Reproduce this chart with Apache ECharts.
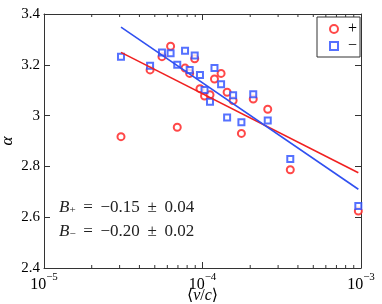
<!DOCTYPE html>
<html><head><meta charset="utf-8">
<script src="https://cdn.jsdelivr.net/npm/echarts@6/dist/echarts.min.js"></script>
<style>html,body{margin:0;padding:0;background:#fff}#c{width:382px;height:304px}</style>
</head><body><div id="c"></div>
<script>
// Data
var xValues = [3.06e-5, 4.67e-5, 5.55e-5, 6.29e-5, 6.93e-5, 7.76e-5, 8.30e-5, 8.93e-5, 9.64e-5, 1.03e-4,
               1.115e-4, 1.19e-4, 1.31e-4, 1.43e-4, 1.56e-4, 1.76e-4, 2.09e-4, 2.58e-4, 3.58e-4, 9.62e-4];
var alphaPlus = [2.917, 3.180, 3.232, 3.273, 2.954, 3.187, 3.166, 3.224, 3.106, 3.077,
                 3.082, 3.144, 3.166, 3.092, 3.059, 2.930, 3.065, 3.025, 2.787, 2.624];
var alphaMinus = [3.232, 3.196, 3.248, 3.245, 3.200, 3.255, 3.180, 3.237, 3.160, 3.101,
                  3.055, 3.187, 3.123, 2.993, 3.080, 2.974, 3.084, 2.981, 2.829, 2.644];
var fitX = [3.06e-5, 9.62e-4];
var fitPlus = [3.249, 2.775];
var fitMinus = [3.348, 2.710];
var xTicks = [1e-5, 1e-4, 1e-3];
var xTickLabels = ['−5', '−4', '−3'];
var xMinorTicks = [2e-5,3e-5,4e-5,5e-5,6e-5,7e-5,8e-5,9e-5,2e-4,3e-4,4e-4,5e-4,6e-4,7e-4,8e-4,9e-4];
var seriesNames = ['+', '−'];
var annotations = ['B+ = −0.15 ± 0.04', 'B− = −0.20 ± 0.02'];

var SERIF = '"Liberation Serif", "DejaVu Serif", serif';
var RED = '#ff1a1a', BLUE = '#2a4dff';
var RED_LINE = '#f02020', BLUE_LINE = '#3050f0';

function pairs(xs, ys){ return xs.map(function(x,i){ return [x, ys[i]]; }); }

var chart = echarts.init(document.getElementById('c'), null, {renderer:'canvas'});

var axisCommon = {
  type: 'log', logBase: 10, min: 1e-5, max: 1e-3,
  axisLine: {show:true, onZero:false, lineStyle:{color:'#333', width:1}},
  axisTick: {show:true, inside:true, length:6, lineStyle:{color:'#333'}},
  splitLine: {show:false}
};

function annText(s){
  var sign = s.charAt(1);
  var rest = s.slice(2);
  return '{i|B}{s|' + sign + '}{n|' + rest.replace(/ /g, '\u2009 ') + '}';
}

var option = {
  animation: false,
  backgroundColor: '#fff',
  grid: {left:44, top:14, right:21, bottom:36, containLabel:false, outerBoundsMode:'none'},
  legend: {
    data: seriesNames,
    orient: 'vertical',
    left: 317, top: 17,
    padding: [4, 3, 3, 12],
    itemWidth: 8, itemHeight: 8, itemGap: 1,
    borderColor: '#333', borderWidth: 1, backgroundColor: '#fff',
    textStyle: {fontFamily: SERIF, fontSize: 16, color:'#000', padding:[0,0,0,5], lineHeight: 13}
  },
  xAxis: [
    Object.assign({}, axisCommon, {
      position: 'bottom',
      name: '{n|⟨}{i|v}{n|/}{i|c}{n|⟩}',
      nameLocation: 'middle', nameGap: 20, nameMoveOverlap: false,
      nameTextStyle: {rich: {
        n: {fontFamily: SERIF, fontSize: 16, color:'#000'},
        i: {fontFamily: SERIF, fontSize: 16, fontStyle:'italic', color:'#000'}
      }},
      axisLabel: {
        margin: 4,
        formatter: function(v){
          var k = xTicks.findIndex(function(t){ return Math.abs(Math.log10(t) - Math.log10(v)) < 1e-6; });
          if (k < 0) return '';
          return '{b|10}{s|' + xTickLabels[k] + '}';
        },
        rich: {
          b: {fontFamily: SERIF, fontSize: 16, color:'#000', verticalAlign:'top', padding:[5,0,0,0]},
          s: {fontFamily: SERIF, fontSize: 11, color:'#000', verticalAlign:'top', padding:[0,0,0,0]}
        }
      }
    }),
    Object.assign({}, axisCommon, {position: 'top', axisLabel:{show:false}})
  ],
  yAxis: [
    {type:'value', min:2.4, max:3.4, interval:0.2, position:'left',
     name: 'α', nameLocation:'middle', nameGap: 28, nameRotate: 90, nameMoveOverlap: false,
     nameTextStyle: {fontFamily: SERIF, fontSize: 17, fontStyle:'italic', color:'#000'},
     axisLine:{show:true, onZero:false, lineStyle:{color:'#333'}},
     axisTick:{show:true, inside:true, length:6, lineStyle:{color:'#333'}},
     splitLine:{show:false},
     axisLabel:{margin:4, fontFamily: SERIF, fontSize: 15, color:'#000',
       formatter: function(v){ return (Math.round(v*10)/10).toString(); }}
    },
    {type:'value', min:2.4, max:3.4, interval:0.2, position:'right',
     axisLine:{show:true, onZero:false, lineStyle:{color:'#333'}},
     axisTick:{show:true, inside:true, length:6, lineStyle:{color:'#333'}},
     splitLine:{show:false}, axisLabel:{show:false}
    }
  ],
  series: [
    {name: seriesNames[0], type:'scatter', data: pairs(xValues, alphaPlus),
     symbol:'emptyCircle', symbolSize:7, itemStyle:{color:RED, borderColor:RED, borderWidth:1.6}, z:3},
    {name: seriesNames[1], type:'scatter', data: pairs(xValues, alphaMinus),
     symbol:'emptyRect', symbolSize:6, itemStyle:{color:BLUE, borderColor:BLUE, borderWidth:1.6}, z:3},
    {name:'fitPlus', type:'line', data: pairs(fitX, fitPlus), showSymbol:false, symbol:'none',
     lineStyle:{color:RED_LINE, width:1.6}, z:4},
    {name:'fitMinus', type:'line', data: pairs(fitX, fitMinus), showSymbol:false, symbol:'none',
     lineStyle:{color:BLUE_LINE, width:1.6}, z:4},
    {name:'minorTicks', type:'custom', data: xMinorTicks.map(function(v){ return [v]; }), silent:true, clip:false, z:5,
     renderItem: function(params, api){
       var b = api.coord([api.value(0), 2.4]);
       var t = api.coord([api.value(0), 3.4]);
       return {type:'group', children:[
         {type:'line', shape:{x1:b[0], y1:b[1], x2:b[0], y2:b[1]-3}, style:{stroke:'#333', lineWidth:1}},
         {type:'line', shape:{x1:t[0], y1:t[1], x2:t[0], y2:t[1]+3}, style:{stroke:'#333', lineWidth:1}}
       ]};
     }
    }
  ],
  graphic: annotations.map(function(s, i){
    return {type:'text', left: 59, top: 199 + i*24,
      style:{
        text: annText(s),
        rich: {
          i: {fontFamily: SERIF, fontSize: 17, fontStyle:'italic', fill:'#222'},
          s: {fontFamily: SERIF, fontSize: 11, fill:'#222', verticalAlign:'bottom', padding:[6,0,0,0]},
          n: {fontFamily: SERIF, fontSize: 17, fill:'#222'}
        }
      }};
  })
};
chart.setOption(option);
</script></body></html>
